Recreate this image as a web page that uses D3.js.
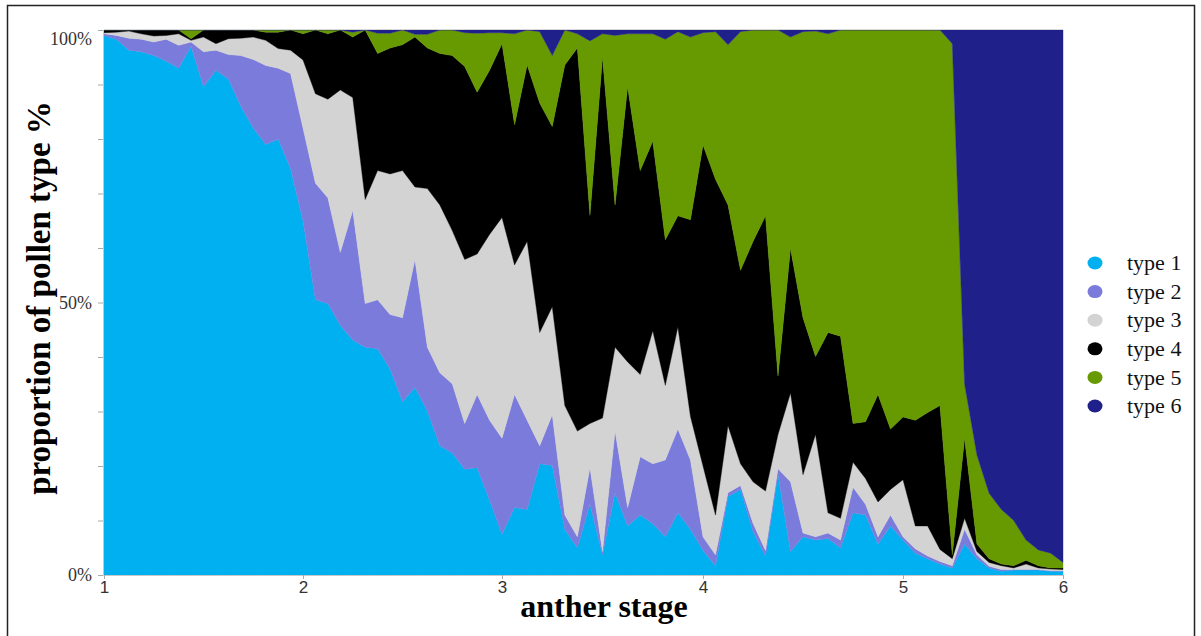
<!DOCTYPE html>
<html>
<head>
<meta charset="utf-8">
<script src="https://cdn.jsdelivr.net/npm/d3@7"></script>
<style>
  html, body { margin: 0; padding: 0; background: #fff; }
  svg { display: block; }
</style>
</head>
<body>
<svg id="chart" width="1201" height="636"></svg>
<script>
// ---------- data ----------
const stage = [
  1, 1.0625, 1.125, 1.1875, 1.25, 1.3125, 1.375, 1.4375, 1.5, 1.5625, 1.625, 1.6875, 1.75, 1.8125, 1.875, 1.9375,
  2, 2.0625, 2.125, 2.1875, 2.25, 2.3125, 2.375, 2.4375, 2.5, 2.5625, 2.625, 2.6875, 2.75, 2.8125, 2.875, 2.9375,
  3, 3.0625, 3.125, 3.1875, 3.25, 3.3125, 3.375, 3.4375, 3.5, 3.5625, 3.625, 3.6875, 3.75, 3.8125, 3.875, 3.9375,
  4, 4.0625, 4.125, 4.1875, 4.25, 4.3125, 4.375, 4.4375, 4.5, 4.5625, 4.625, 4.6875, 4.75, 4.8125, 4.875, 4.9375,
  5, 5.077, 5.154, 5.231, 5.308, 5.385, 5.462, 5.538, 5.615, 5.692, 5.769, 5.846, 5.923, 6
];
const type1 = [
  99.0,98.3,96.3,96.0,95.3,94.3,93.0,97.0,89.6,92.6,91.0,86.0,82.0,79.0,80.0,74.6,
  65.0,50.5,49.8,45.8,43.1,41.8,41.5,37.8,31.8,34.4,30.1,23.7,22.4,19.4,19.7,13.7,
  7.5,12.4,12.0,20.4,20.1,8.4,5.0,13.0,3.7,15.1,9.0,11.0,9.4,7.0,11.4,8.4,
  4.5,1.7,14.4,15.7,8.0,3.5,18.5,4.3,7.0,6.4,6.7,5.0,11.4,11.0,5.7,9.0,
  6.4,4.0,3.0,2.0,1.3,5.7,3.0,1.3,0.7,0.9,0.9,0.9,0.7,0.7
];
const type2 = [
  0.3,0.7,2.2,2.3,2.5,4.0,4.2,0.8,6.4,3.7,4.5,9.3,12.6,14.5,13.0,17.4,
  17.0,21.4,19.4,13.4,23.8,8.0,9.0,10.0,15.4,23.5,11.7,13.4,12.7,8.4,13.4,14.7,
  17.6,20.7,16.4,3.3,9.3,2.6,2.0,6.7,0.6,11.3,3.4,10.7,11.0,14.1,15.4,12.7,
  2.5,2.0,0.7,0.7,1.5,1.0,1.0,12.8,0.7,0.6,1.0,1.4,4.7,2.0,1.3,2.0,
  0.6,0.8,0.5,0.5,0.4,2.7,0.7,0.3,0.3,0.1,0.1,0.1,0.1,0.1
];
const type3 = [
  0.2,0.6,1.3,1.0,1.1,0.7,2.1,0.3,2.7,1.2,2.9,3.2,4.1,4.6,3.6,4.3,
  12.5,16.4,18.1,29.8,20.7,19.1,23.7,25.8,27.0,13.3,29.1,30.8,28.1,30.1,25.8,34.1,
  40.5,23.8,32.8,20.8,19.8,20.1,19.4,8.1,24.5,15.4,26.7,15.1,24.4,13.7,18.7,8.0,
  13.0,7.3,12.3,4.0,7.6,10.9,6.3,16.3,10.7,18.8,3.7,4.0,4.6,4.7,6.4,4.7,
  10.5,4.2,5.5,2.2,1.3,2.0,0.6,0.7,0.7,0.3,1.0,0.3,0.3,0.2
];
const type4 = [
  0.5,0.4,0.2,0.7,1.1,1.0,0.7,0.3,1.3,2.5,1.6,1.5,1.3,1.5,3.0,3.7,
  4.8,11.7,12.0,11.0,11.1,31.1,21.5,23.1,23.1,27.5,25.8,27.8,32.1,35.4,29.7,30.1,
  31.9,25.7,32.4,42.1,33.1,62.5,70.3,38.2,66.2,26.1,50.5,37.4,34.8,26.7,20.4,36.1,
  58.9,61.6,40.5,35.5,44.1,50.5,10.7,26.5,28.8,14.3,33.1,33.4,7.1,10.4,19.7,11.1,
  11.5,19.4,20.8,26.4,0.7,14.7,1.4,0.7,0.3,0.4,0.7,0.4,0.2,0.3
];
const type5 = [
  0,0,0,0,0,0,0,1.6,0,0,0,0,0,0.4,0.4,0,
  0.7,0,0.7,0,0.9,0,3.7,2.7,2.7,0.5,2.5,4.3,4.7,6.2,10.8,6.9,
  2.0,16.7,6.4,13.1,13.0,6.4,2.6,32.0,4.3,31.1,9.7,25.1,19.7,36.8,33.8,33.5,
  20.6,27.1,29.4,43.8,38.8,34.1,63.5,38.8,52.5,59.7,54.8,56.2,72.2,71.9,66.9,73.2,
  71.0,71.6,70.2,68.9,93.8,9.9,16.3,12.0,10.0,8.3,3.7,2.9,2.7,1.0
];
const type6 = [
  0,0,0,0,0,0,0,0,0,0,0,0,0,0,0,0,
  0,0,0,0,0.4,0,0.6,0.6,0,0.8,0.8,0,0,0.5,0.6,0.5,
  0.5,0.7,0,0.3,4.7,0,0.7,2.0,0.7,1.0,0.7,0.7,0.7,1.7,0.3,1.3,
  0.5,0.3,2.7,0.3,0,0,0,1.3,0.3,0.2,0.7,0,0,0,0,0,
  0,0,0,0,2.5,65.0,78.0,85.0,88.0,90.0,93.6,95.4,96.0,97.7
];
const seriesNames = ["type 1", "type 2", "type 3", "type 4", "type 5", "type 6"];
const xTicks = [1, 2, 3, 4, 5, 6];
const yTicks = [0, 0.1, 0.2, 0.3, 0.4, 0.5, 0.6, 0.7, 0.8, 0.9, 1];
const yLabels = { 0: "0%", 0.5: "50%", 1: "100%" };
const colors = ["#00b0f0", "#7b7bdc", "#d3d3d3", "#000000", "#679a00", "#20208a"];

// ---------- build table ----------
const allSeries = [type1, type2, type3, type4, type5, type6];
const rows = stage.map((s, i) => {
  const r = { stage: s };
  seriesNames.forEach((k, j) => r[k] = allSeries[j][i]);
  return r;
});

// ---------- layout ----------
const svg = d3.select("#chart");
const plot = { left: 104, right: 1063, top: 30, bottom: 575 };

// frame
svg.append("rect")
  .attr("x", 7.5).attr("y", 5.5).attr("width", 1187).attr("height", 660)
  .attr("fill", "none").attr("stroke", "#222").attr("stroke-width", 1.5);

const x = d3.scaleLinear()
  .domain(xTicks)
  .range([plot.left, 303, 502, 703, 903, plot.right]);
const y = d3.scaleLinear().domain([0, 1]).range([plot.bottom, plot.top]);

const stack = d3.stack().keys(seriesNames).offset(d3.stackOffsetExpand);
const layers = stack(rows);

const area = d3.area()
  .x(d => x(d.data.stage))
  .y0(d => y(d[0]))
  .y1(d => y(d[1]))
  .curve(d3.curveLinear);

svg.append("g").selectAll("path")
  .data(layers)
  .join("path")
  .attr("d", area)
  .attr("fill", (d, i) => colors[i])
  .attr("stroke", (d, i) => colors[i])
  .attr("stroke-width", 0.4);

// top light line
svg.append("line")
  .attr("x1", plot.left).attr("x2", plot.right)
  .attr("y1", plot.top - 0.5).attr("y2", plot.top - 0.5)
  .attr("stroke", "#d8d8d8").attr("stroke-width", 1);

// x axis
const xAxis = svg.append("g")
  .attr("transform", `translate(0,${plot.bottom})`)
  .call(d3.axisBottom(x).tickValues(xTicks).tickFormat(d3.format("d")).tickSize(4).tickPadding(2));
xAxis.select(".domain").attr("stroke", "#c8c8c8");
xAxis.selectAll(".tick line").attr("stroke", "#aaa");
xAxis.selectAll("text")
  .attr("font-family", "Liberation Sans, Arial, sans-serif")
  .attr("font-size", 17).attr("fill", "#333");

// y axis
const yAxis = svg.append("g")
  .attr("transform", `translate(${plot.left - 1},0)`)
  .call(d3.axisLeft(y).tickValues(yTicks).tickSize(5).tickPadding(6)
    .tickFormat(d => yLabels[Math.round(d * 10) / 10] || ""));
yAxis.select(".domain").attr("stroke", "#c8c8c8");
yAxis.selectAll(".tick line").attr("stroke", "#aaa");
yAxis.selectAll("text")
  .attr("font-family", "Liberation Serif, Times New Roman, serif")
  .attr("font-size", 18).attr("fill", "#333");
yAxis.selectAll(".tick").filter(d => d === 1).select("text").attr("dy", "0.8em");

// axis titles
svg.append("text")
  .attr("x", 604).attr("y", 617)
  .attr("text-anchor", "middle")
  .attr("font-family", "Liberation Serif, Times New Roman, serif")
  .attr("font-weight", "bold").attr("font-size", 32)
  .text("anther stage");

svg.append("text")
  .attr("transform", "translate(50,298) rotate(-90)")
  .attr("text-anchor", "middle")
  .attr("font-family", "Liberation Serif, Times New Roman, serif")
  .attr("font-weight", "bold").attr("font-size", 33)
  .text("proportion of pollen type %");

// legend
const legend = svg.append("g");
const items = legend.selectAll("g")
  .data(seriesNames)
  .join("g")
  .attr("transform", (d, i) => `translate(1095,${263 + i * 28.6})`);
items.append("ellipse").attr("rx", 7.5).attr("ry", 6.5).attr("fill", (d, i) => colors[i]);
items.append("text")
  .attr("x", 32).attr("dy", "0.33em")
  .attr("font-family", "Liberation Serif, Times New Roman, serif")
  .attr("font-size", 22).attr("fill", "#111")
  .text(d => d);
</script>
</body>
</html>
